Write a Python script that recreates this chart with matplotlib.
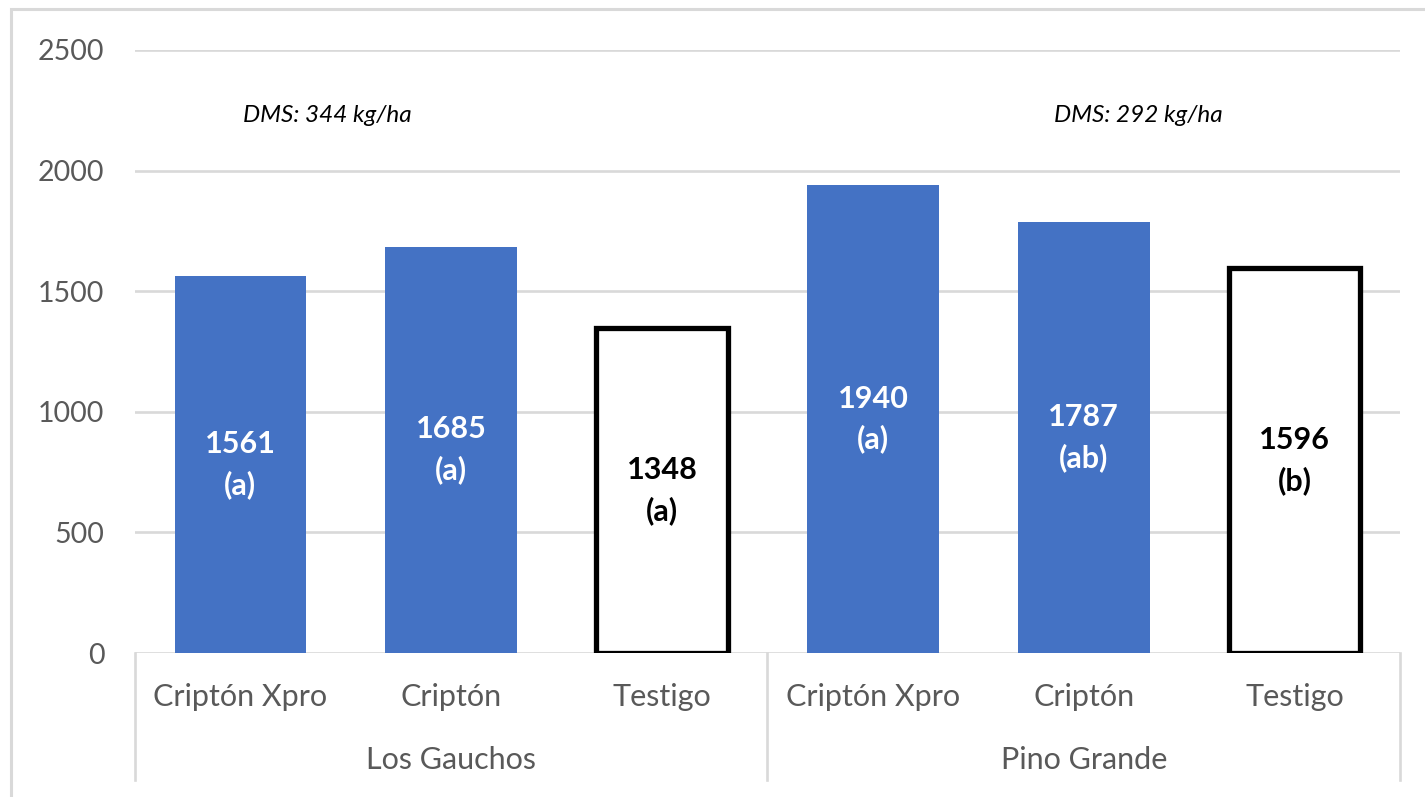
import matplotlib
matplotlib.use("Agg")
import matplotlib.pyplot as plt
from matplotlib.patches import Rectangle

# ---------------------------------------------------------------------------
# Data
# ---------------------------------------------------------------------------
treatments = ["Criptón Xpro", "Criptón", "Testigo",
              "Criptón Xpro", "Criptón", "Testigo"]
sites      = ["Los Gauchos", "Pino Grande"]
yields     = [1561, 1685, 1348, 1940, 1787, 1596]
letters    = ["(a)", "(a)", "(a)", "(a)", "(ab)", "(b)"]
is_control = [False, False, True, False, False, True]
dms_labels = ["DMS: 344 kg/ha", "DMS: 292 kg/ha"]
dms_x      = [0.41, 4.26]
dms_y      = 2230
y_ticks    = [0, 500, 1000, 1500, 2000, 2500]

BLUE  = "#4472C4"
GRID  = "#D9D9D9"
TICK  = "#595959"

plt.rcParams["font.family"] = ["Lato", "DejaVu Sans"]

W, H = 1425, 797
fig = plt.figure(figsize=(W / 100, H / 100), dpi=100)
fig.patch.set_facecolor("white")

# plot area in pixel terms
left, right, bottom, top = 135, 1400, 653, 50
ax = fig.add_axes([left / W, 1 - bottom / H, (right - left) / W, (bottom - top) / H])

for i, (v, ctrl) in enumerate(zip(yields, is_control)):
    if ctrl:
        ax.bar(i, v, width=0.625, color="white", edgecolor="black",
               linewidth=3.8, zorder=3)
    else:
        ax.bar(i, v, width=0.625, color=BLUE, edgecolor="none", zorder=3)
    ax.text(i, v / 2, f"{v}\n{letters[i]}", ha="center", va="center",
            fontsize=22, fontweight="bold", linespacing=1.5,
            color="black" if ctrl else "white", zorder=4)

ax.set_xlim(-0.5, len(yields) - 0.5)
ax.set_ylim(0, 2500)
ax.set_yticks(y_ticks)
ax.set_yticklabels([str(t) for t in y_ticks])
ax.tick_params(axis="y", length=0, pad=22, labelsize=20.5, labelcolor=TICK)
ax.set_xticks([])
ax.yaxis.grid(True, color=GRID, linewidth=1.9, zorder=0)
ax.set_axisbelow(True)
for s in ax.spines.values():
    s.set_visible(False)

# multi-level category axis
tr = ax.get_xaxis_transform()
for i, name in enumerate(treatments):
    ax.text(i, -0.073, name, transform=tr, ha="center", va="center",
            fontsize=22, color=TICK)
for k, site in enumerate(sites):
    ax.text(3 * k + 1, -0.177, site, transform=tr, ha="center", va="center",
            fontsize=22, color=TICK)
for xs in [-0.5, 2.5, 5.5]:
    ax.plot([xs, xs], [0, -0.211], transform=tr, color=GRID,
            linewidth=1.9, clip_on=False)

# DMS annotations
for xd, lab in zip(dms_x, dms_labels):
    ax.text(xd, dms_y, lab, ha="center", va="center",
            fontsize=17.5, style="italic", color="black")

# outer chart border
fig.patches.append(Rectangle((11 / W, -0.1), 1.0, 1 - 9 / H + 0.1,
                             transform=fig.transFigure, fill=False,
                             edgecolor=GRID, linewidth=2.2))

fig.savefig("out.png", dpi=100)
